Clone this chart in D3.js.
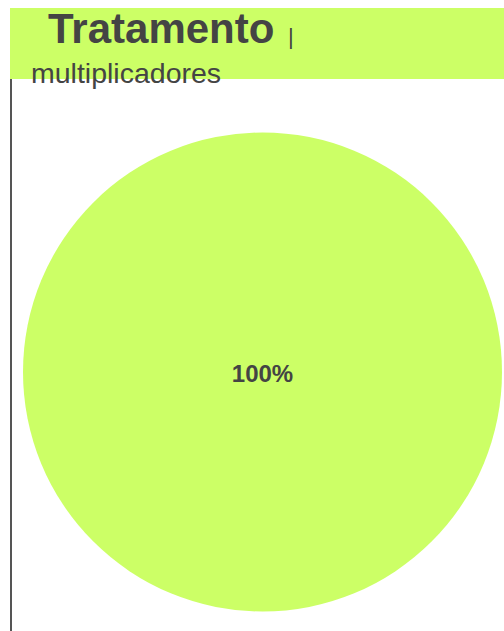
<!DOCTYPE html>
<html>
<head>
<meta charset="utf-8">
<script src="https://cdn.jsdelivr.net/npm/d3@7"></script>
<style>
  body { margin: 0; background: #ffffff; }
  text { font-family: "Liberation Sans", Arial, sans-serif; }
</style>
</head>
<body>
<div id="chart"></div>
<script>
const categories = ['multiplicadores'];
const values = [100];
const sliceColors = ['#ccff66'];

const totalWidth = 504;
const totalHeight = 631;

const svg = d3
  .select('#chart')
  .append('svg')
  .attr('width', totalWidth)
  .attr('height', totalHeight);

// Header band
svg
  .append('rect')
  .attr('x', 10)
  .attr('y', 8)
  .attr('width', totalWidth - 10)
  .attr('height', 71)
  .attr('fill', '#ccff66');

// Left rule
svg
  .append('line')
  .attr('x1', 11)
  .attr('x2', 11)
  .attr('y1', 79)
  .attr('y2', totalHeight)
  .attr('stroke', '#555555')
  .attr('stroke-width', 2);

// Title
svg
  .append('text')
  .attr('x', 48)
  .attr('y', 43)
  .attr('font-size', 42)
  .attr('font-weight', 'bold')
  .attr('fill', '#444444')
  .text('Tratamento');

svg
  .append('text')
  .attr('x', 288)
  .attr('y', 44)
  .attr('font-size', 22)
  .attr('fill', '#444444')
  .text('|');

svg
  .append('text')
  .attr('x', 31)
  .attr('y', 83)
  .attr('font-size', 28.5)
  .attr('fill', '#444444')
  .text('multiplicadores');

// Pie
const cx = 262.5;
const cy = 372;
const radius = 239.5;

const pie = d3.pie().sort(null).value((d) => d.value);
const arc = d3.arc().innerRadius(0).outerRadius(radius);
const color = d3.scaleOrdinal().domain(categories).range(sliceColors);

const data = categories.map((c, i) => ({ name: c, value: values[i] }));
const total = d3.sum(values);

const g = svg.append('g').attr('transform', `translate(${cx}, ${cy})`);

g.selectAll('path')
  .data(pie(data))
  .join('path')
  .attr('d', arc)
  .attr('fill', (d) => color(d.data.name));

const labelArc = d3.arc().innerRadius(0).outerRadius(0);

g.selectAll('text.label')
  .data(pie(data))
  .join('text')
  .attr('class', 'label')
  .attr('transform', (d) => `translate(${labelArc.centroid(d)})`)
  .attr('dy', 10)
  .attr('text-anchor', 'middle')
  .attr('font-size', 24)
  .attr('font-weight', 'bold')
  .attr('fill', '#444444')
  .text((d) => `${Math.round((d.data.value / total) * 100)}%`);
</script>
</body>
</html>
